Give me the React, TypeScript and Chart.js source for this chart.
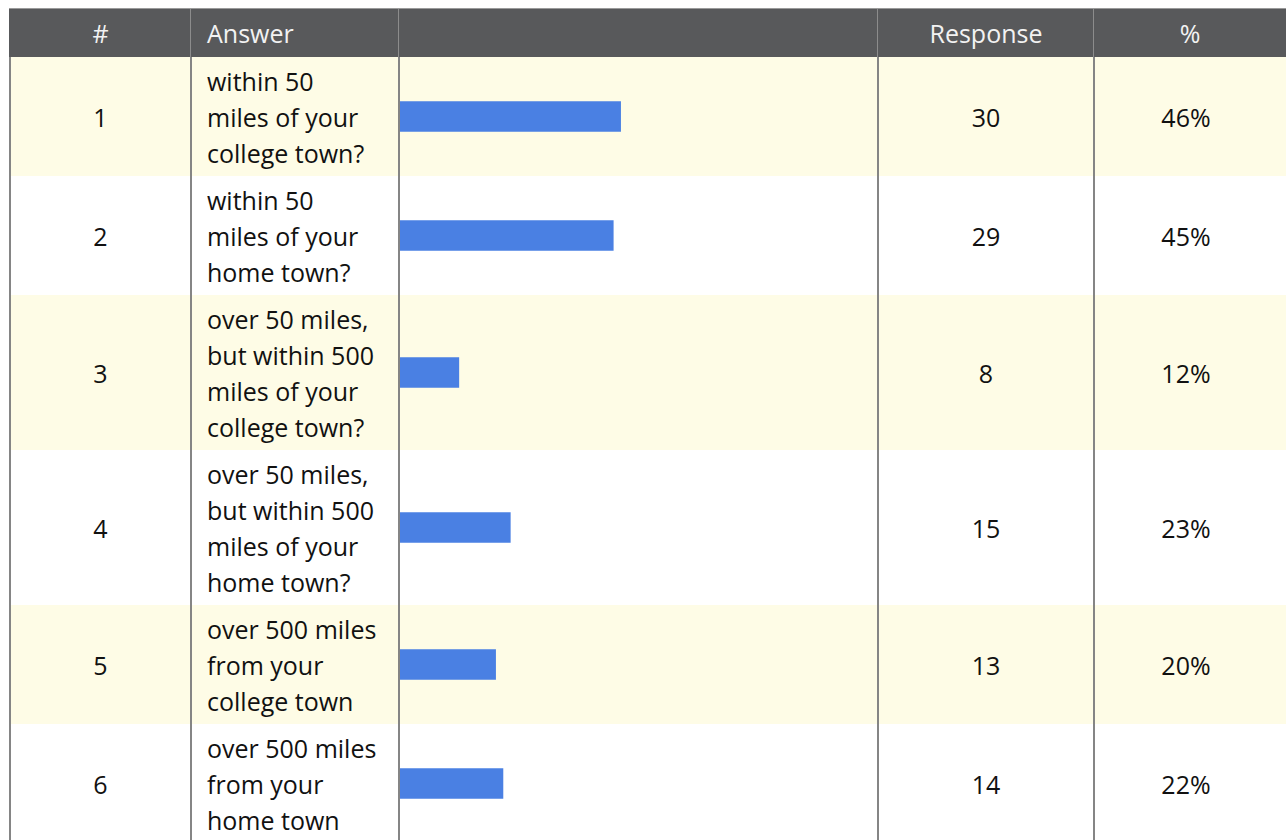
import React, { useEffect, useRef } from "react";
import { Chart, registerables } from "chart.js";
Chart.register(...registerables);

const headers = ["#", "Answer", "", "Response", "%"];
const rowNumbers = ["1", "2", "3", "4", "5", "6"];
const answers: string[][] = [
  ["within 50", "miles of your", "college town?"],
  ["within 50", "miles of your", "home town?"],
  ["over 50 miles,", "but within 500", "miles of your", "college town?"],
  ["over 50 miles,", "but within 500", "miles of your", "home town?"],
  ["over 500 miles", "from your", "college town"],
  ["over 500 miles", "from your", "home town"],
];
const responses = [30, 29, 8, 15, 13, 14];
const percents = ["46%", "45%", "12%", "23%", "20%", "22%"];
const totalRespondents = 65;

const FONT = "'Open Sans', 'DejaVu Sans', sans-serif";
const FONT_SIZE = 25;
const LINE_H = 36;
const PAD_V = 5.5;
const HEADER_TOP = 9;
const HEADER_BOTTOM = 57;
const COLS = [10, 191, 399, 878, 1094, 1286];
const ROW_BG = ["#fefce6", "#ffffff"];
const BAR_COLOR = "#4a80e3";

function BarCell({ value, width, height }: { value: number; width: number; height: number }) {
  const ref = useRef<HTMLCanvasElement | null>(null);
  useEffect(() => {
    if (!ref.current) return;
    const chart = new Chart(ref.current, {
      type: "bar",
      data: {
        labels: [""],
        datasets: [
          {
            data: [value],
            backgroundColor: BAR_COLOR,
            borderWidth: 0,
            barThickness: 30,
          },
        ],
      },
      options: {
        indexAxis: "y",
        responsive: false,
        maintainAspectRatio: false,
        animation: false,
        devicePixelRatio: 1,
        layout: { padding: 0 },
        plugins: { legend: { display: false }, tooltip: { enabled: false } },
        scales: {
          x: { min: 0, max: totalRespondents, display: false },
          y: { display: false },
        },
      },
    });
    return () => chart.destroy();
  }, [value, width, height]);
  return <canvas ref={ref} width={width} height={height} style={{ display: "block", width, height }} />;
}

export default function App() {
  const rowHeights = answers.map((a) => a.length * LINE_H + PAD_V * 2);
  const rowTops: number[] = [];
  let y = HEADER_BOTTOM;
  rowHeights.forEach((h) => {
    rowTops.push(y);
    y += h;
  });

  const textStyle: React.CSSProperties = {
    fontFamily: FONT,
    fontSize: FONT_SIZE,
    lineHeight: `${LINE_H}px`,
    color: "#111",
  };

  return (
    <div
      style={{
        position: "fixed",
        left: 0,
        top: 0,
        width: 1286,
        height: 840,
        overflow: "hidden",
        background: "#fff",
      }}
    >
      {/* header */}
      <div style={{ position: "absolute", left: 9, top: 8, width: 1290, height: 1.5, background: "#9a9a9a" }} />
      <div
        style={{
          position: "absolute",
          left: 9,
          top: HEADER_TOP,
          width: 1290,
          height: HEADER_BOTTOM - HEADER_TOP,
          background: "#58595b",
        }}
      />
      {headers.map((h, i) => (
        <div
          key={"h" + i}
          style={{
            ...textStyle,
            color: "#f2f2f2",
            position: "absolute",
            left: COLS[i],
            top: HEADER_TOP,
            width: COLS[i + 1] - COLS[i],
            height: HEADER_BOTTOM - HEADER_TOP,
            lineHeight: `${HEADER_BOTTOM - HEADER_TOP}px`,
            textAlign: i === 1 ? "left" : "center",
            paddingLeft: i === 1 ? 16 : 0,
            boxSizing: "border-box",
            whiteSpace: "nowrap",
          }}
        >
          {h}
        </div>
      ))}
      {COLS.slice(1, 5).map((x, i) => (
        <div
          key={"hl" + i}
          style={{ position: "absolute", left: x - 1, top: HEADER_TOP, width: 1, height: HEADER_BOTTOM - HEADER_TOP, background: "#8c8c8c" }}
        />
      ))}

      {/* rows */}
      {answers.map((lines, r) => (
        <React.Fragment key={"r" + r}>
          <div
            style={{
              position: "absolute",
              left: 9,
              top: rowTops[r],
              width: 1290,
              height: rowHeights[r],
              background: ROW_BG[r % 2],
            }}
          />
          <div
            style={{
              ...textStyle,
              position: "absolute",
              left: COLS[0],
              top: rowTops[r],
              width: COLS[1] - COLS[0],
              height: rowHeights[r],
              display: "flex",
              alignItems: "center",
              justifyContent: "center",
            }}
          >
            {rowNumbers[r]}
          </div>
          <div
            style={{
              ...textStyle,
              position: "absolute",
              left: COLS[1] + 16,
              top: rowTops[r] + PAD_V,
              width: COLS[2] - COLS[1] - 16,
              whiteSpace: "nowrap",
            }}
          >
            {lines.map((l, k) => (
              <div key={k}>{l}</div>
            ))}
          </div>
          <div style={{ position: "absolute", left: COLS[2] + 1, top: rowTops[r] }}>
            <BarCell value={responses[r]} width={COLS[3] - COLS[2] - 1} height={rowHeights[r]} />
          </div>
          <div
            style={{
              ...textStyle,
              position: "absolute",
              left: COLS[3],
              top: rowTops[r],
              width: COLS[4] - COLS[3],
              height: rowHeights[r],
              display: "flex",
              alignItems: "center",
              justifyContent: "center",
            }}
          >
            {String(responses[r])}
          </div>
          <div
            style={{
              ...textStyle,
              position: "absolute",
              left: COLS[4],
              top: rowTops[r],
              width: COLS[5] - COLS[4] - 8,
              height: rowHeights[r],
              display: "flex",
              alignItems: "center",
              justifyContent: "center",
            }}
          >
            {percents[r]}
          </div>
        </React.Fragment>
      ))}

      {/* body vertical lines */}
      {[9, 190, 398, 877, 1093].map((x, i) => (
        <div
          key={"vl" + i}
          style={{ position: "absolute", left: x, top: HEADER_BOTTOM, width: 2, height: 840 - HEADER_BOTTOM, background: "#858585" }}
        />
      ))}
    </div>
  );
}
